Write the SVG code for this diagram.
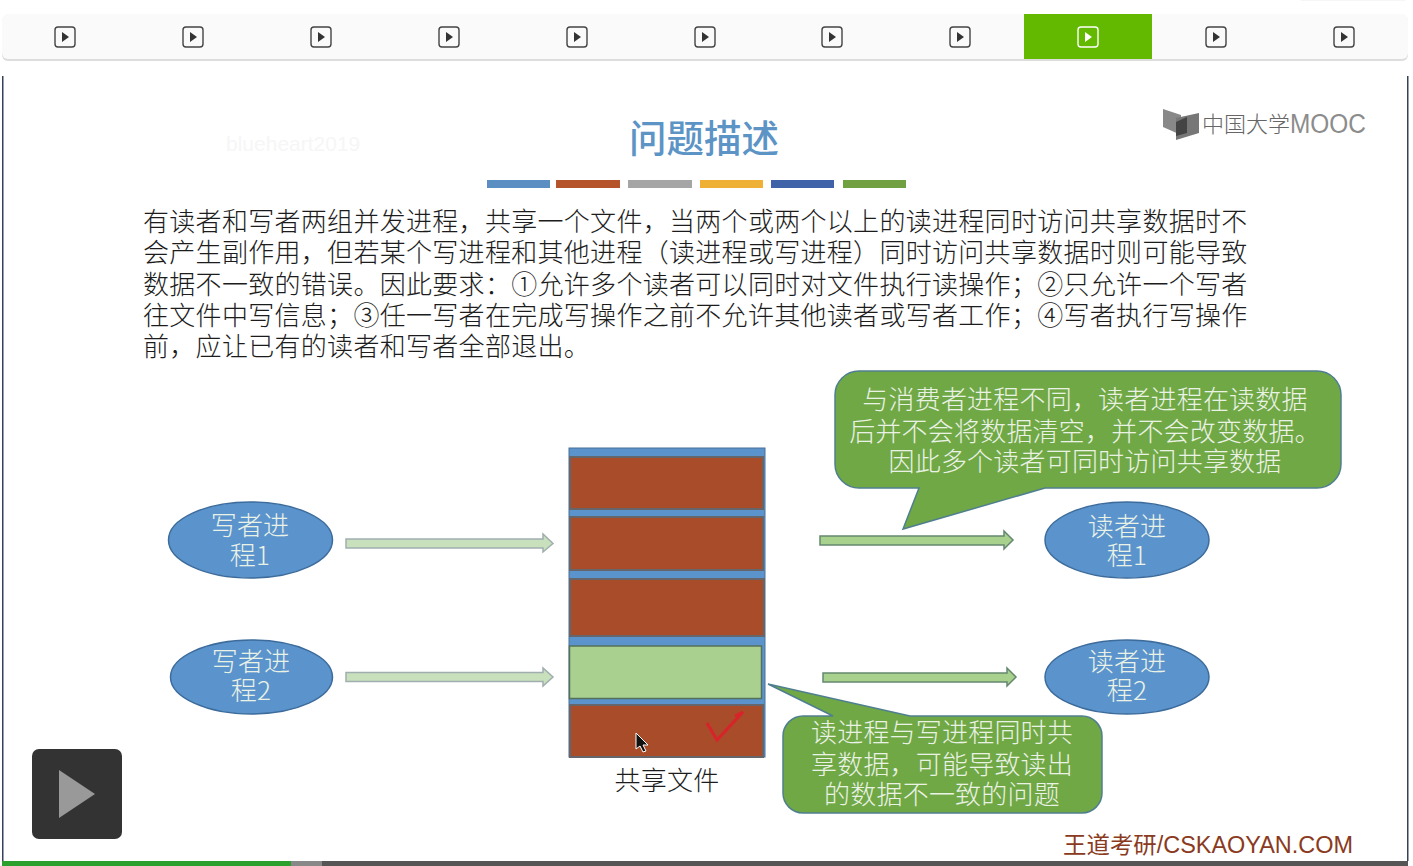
<svg xmlns="http://www.w3.org/2000/svg" width="1413" height="866" viewBox="0 0 1413 866">
<style>
text{font-family:"Noto Sans CJK SC","Liberation Sans",sans-serif}
.body{font-size:26px;letter-spacing:.3px;fill:#1c1c1c;font-weight:300}
.lbl{font-size:26px;letter-spacing:.2px;fill:#eaf2e6;text-anchor:middle;font-weight:300}
.ell{fill:#5b94cd;stroke:#3d6c9c;stroke-width:1.5}
.brick{fill:#a84c29;stroke:#66666a;stroke-width:2}
.call{fill:#70a845;stroke:#4f7f8f;stroke-width:1.5}
.ico{fill:none;stroke:#444;stroke-width:1.4}
.tri{fill:#333}
.arw1{fill:#c8e0bc;stroke:#a0aeb0;stroke-width:1.5}
.arw2{fill:#a9d18e;stroke:#64886f;stroke-width:1.5}
</style>
<defs>
<g id="pi"><rect class="ico" x="-10" y="-10" width="20" height="20" rx="3"/><path class="tri" d="M-3-5L4 0-3 5Z"/></g>
</defs>
<rect width="1413" height="866" fill="#fff"/>
<rect x="1300" y="-3" width="106" height="4" rx="2" fill="#f6f6f6"/>
<g id="toolbar">
<rect x="2" y="15" width="1406" height="46" rx="6" fill="#ddd"/>
<rect x="2" y="14" width="1406" height="45" rx="6" fill="#fafafa"/>
<rect x="1024" y="14" width="128" height="45" fill="#62b900"/>
<use href="#pi" x="65" y="37"/><use href="#pi" x="193" y="37"/><use href="#pi" x="321" y="37"/><use href="#pi" x="449" y="37"/><use href="#pi" x="577" y="37"/><use href="#pi" x="705" y="37"/><use href="#pi" x="832" y="37"/><use href="#pi" x="960" y="37"/>
<rect x="1078" y="27" width="20" height="20" rx="3" fill="none" stroke="#fff" stroke-width="1.4"/><path d="M1085 32L1092 37 1085 42Z" fill="#fff"/>
<use href="#pi" x="1216" y="37"/><use href="#pi" x="1344" y="37"/>
</g>
<g id="frame">
<rect x="2" y="76" width="1.5" height="785" fill="#34425a"/>
<rect x="1407" y="76" width="1.5" height="785" fill="#34425a"/>
<rect x="2" y="861" width="289" height="5" fill="#2ca02c"/>
<rect x="291" y="861" width="31" height="5" fill="#888"/>
<rect x="322" y="861" width="1086" height="5" fill="#555"/>
</g>
<text x="226" y="151" font-size="21" style="font-family:'Liberation Sans',sans-serif" fill="#f6f6f6">blueheart2019</text>
<g id="title">
<text x="704" y="152" font-size="37.500" font-weight="500" text-anchor="middle" fill="#5c94c6">问题描述</text>
<rect x="487" y="180" width="63" height="8" fill="#5b8fc4"/>
<rect x="556" y="180" width="64" height="8" fill="#b5532a"/>
<rect x="628" y="180" width="64" height="8" fill="#a5a5a5"/>
<rect x="700" y="180" width="63" height="8" fill="#eeb035"/>
<rect x="771" y="180" width="63" height="8" fill="#3f62a8"/>
<rect x="843" y="180" width="63" height="8" fill="#70a040"/>
</g>
<g id="logo">
<path d="M1163 109L1181 115V135L1163 127Z" fill="#888"/>
<path d="M1176 140V118L1199 113V133Z" fill="#777"/>
<path d="M1176 122L1187 117V133L1176 136Z" fill="#444"/>
<text x="1202" y="132" font-size="22" fill="#666" font-weight="300">中国大学</text>
<text x="1290" y="133" font-size="27" fill="#8c8c8c" style="font-family:'Liberation Sans',sans-serif" textLength="76" lengthAdjust="spacingAndGlyphs">MOOC</text>
</g>
<g id="desc">
<text class="body" x="143" y="231">有读者和写者两组并发进程，共享一个文件，当两个或两个以上的读进程同时访问共享数据时不<tspan x="143" y="262">会产生副作用，但若某个写进程和其他进程（读进程或写进程）同时访问共享数据时则可能导致</tspan><tspan x="143" y="294">数据不一致的错误。因此要求：①允许多个读者可以同时对文件执行读操作；②只允许一个写者</tspan><tspan x="143" y="325">往文件中写信息；③任一写者在完成写操作之前不允许其他读者或写者工作；④写者执行写操作</tspan><tspan x="143" y="356">前，应让已有的读者和写者全部退出。</tspan></text>
</g>
<g id="connectors">
<path class="arw1" d="M346 539H543V534L553 543.500 543 552V548H346Z"/>
<path class="arw1" d="M346 672.500H543V668L553 677 543 686V681.500H346Z"/>
<path class="arw2" d="M820 536H1004V531L1013 540 1004 549V545H820Z"/>
<path class="arw2" d="M823 673H1007V668L1016 677 1007 686V682H823Z"/>
</g>
<g id="file">
<rect x="569" y="448" width="196" height="309" fill="#5b94cd" stroke="#4a6f96" stroke-width="1"/>
<rect class="brick" x="570" y="457" width="193" height="52"/>
<rect class="brick" x="570" y="517" width="193" height="53"/>
<rect class="brick" x="570" y="579" width="194" height="57"/>
<rect x="569.500" y="646" width="192" height="52.500" fill="#a9d08e" stroke="#55705a" stroke-width="1.500"/>
<rect class="brick" x="570" y="705" width="193" height="52"/>
<path d="M707 723L717 740 743 712 735 716" fill="none" stroke="#d8232a" stroke-width="3"/>
<path d="M636 733V749L640 746 643 752 646 751 643 745 648 745Z" fill="#111" stroke="#fff" stroke-width="1"/>
<text x="667" y="790" font-size="26" letter-spacing=".2" fill="#1c1c1c" text-anchor="middle" font-weight="300">共享文件</text>
</g>
<g id="writer1"><ellipse class="ell" cx="250.500" cy="540" rx="82" ry="38"/><text class="lbl" x="250" y="535">写者进<tspan x="250" y="565">程1</tspan></text></g>
<g id="writer2"><ellipse class="ell" cx="251.500" cy="677" rx="81" ry="37"/><text class="lbl" x="251" y="671">写者进<tspan x="251" y="700">程2</tspan></text></g>
<g id="reader1"><ellipse class="ell" cx="1127" cy="540" rx="82" ry="38"/><text class="lbl" x="1127" y="536">读者进<tspan x="1127" y="565">程1</tspan></text></g>
<g id="reader2"><ellipse class="ell" cx="1127" cy="677" rx="82" ry="37"/><text class="lbl" x="1127" y="671">读者进<tspan x="1127" y="700">程2</tspan></text></g>
<g id="callout1">
<path class="call" d="M859 371H1317A24 24 0 0 1 1341 395V464A24 24 0 0 1 1317 488H1045L903 529 919 488H859A24 24 0 0 1 835 464V395A24 24 0 0 1 859 371Z"/>
<text class="lbl" x="1085" y="409">与消费者进程不同，读者进程在读数据<tspan x="1085" y="441">后并不会将数据清空，并不会改变数据。</tspan><tspan x="1085" y="471">因此多个读者可同时访问共享数据</tspan></text>
</g>
<g id="callout2">
<path class="call" d="M803 716H833L768 684 910 716H1082A20 20 0 0 1 1102 736V793A20 20 0 0 1 1082 813H803A20 20 0 0 1 783 793V736A20 20 0 0 1 803 716Z"/>
<text class="lbl" x="942" y="742">读进程与写进程同时共<tspan x="942" y="774">享数据，可能导致读出</tspan><tspan x="942" y="804">的数据不一致的问题</tspan></text>
</g>
<g id="player">
<rect x="32" y="749" width="90" height="90" rx="7" fill="#333"/>
<path d="M59 770L95 794 59 818Z" fill="#999"/>
</g>
<text id="brand" x="1063" y="853" font-size="23" fill="#8a3a20" style="font-family:'Liberation Sans','Noto Sans CJK SC',sans-serif" textLength="290" lengthAdjust="spacingAndGlyphs">王道考研/CSKAOYAN.COM</text>
</svg>
